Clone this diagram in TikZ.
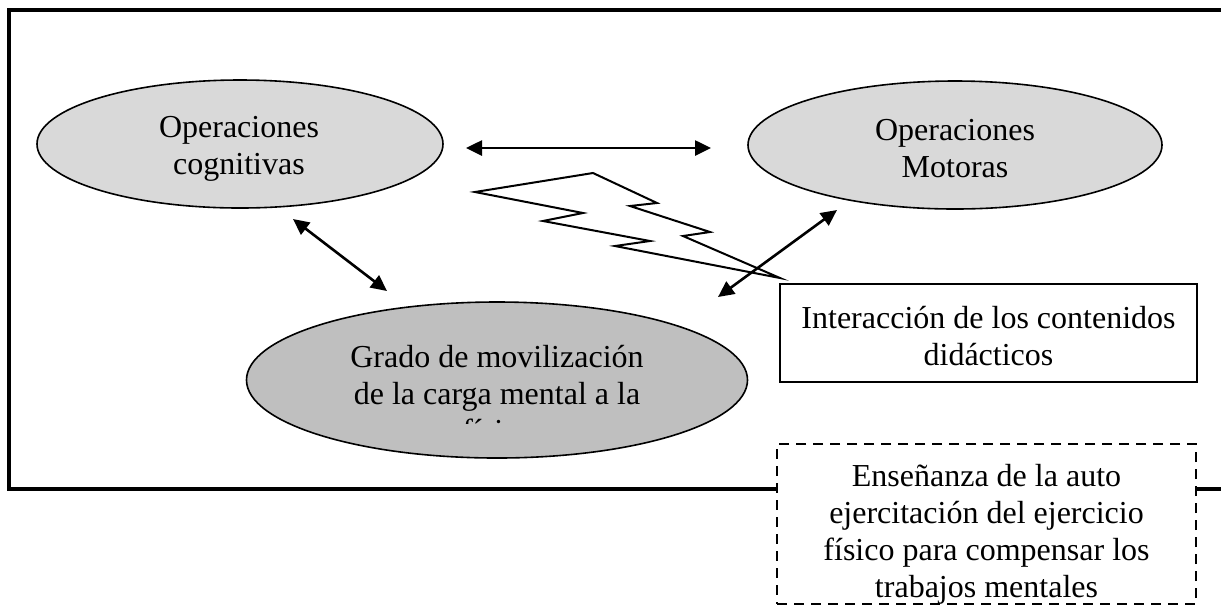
\documentclass[tikz,border=0pt]{standalone}
\usepackage{fontspec}
\setmainfont{Liberation Serif}
\usetikzlibrary{shapes.geometric,arrows.meta}
\begin{document}
\begin{tikzpicture}[x=0.5pt,y=-0.5pt,
  txt/.style={font=\fontsize{16}{18.5}\selectfont, align=center},
  oval/.style={ellipse, draw, line width=0.8pt, inner sep=0pt},
  dbl/.style={line width=1.3pt, {Triangle[length=8pt,width=7.5pt]}-{Triangle[length=8pt,width=7.5pt]}},
  framebox/.style={draw, line width=0.8pt, fill=white, inner sep=0pt}
]
\useasboundingbox (0,0) rectangle (1221,607);
% outer frame (open on the right)
\draw[line width=2pt] (1221,9.5) -- (9,9.5) -- (9,488.5) -- (1221,488.5);
% ellipses
\node[oval, fill=black!15, minimum width=203pt, minimum height=64pt] (cog) at (240,144) {};
\node[txt] (cogt) at (239,149) {Operaciones\\cognitivas};
\node[oval, fill=black!15, minimum width=207pt, minimum height=64pt] (mot) at (955,145) {};
\node[txt] (mott) at (955,149) {Operaciones\\Motoras};
\node[oval, fill=black!25, minimum width=250.5pt, minimum height=78pt] (grado) at (497,380) {};
\begin{scope}
\clip (240,300) rectangle (760,423);
\node[txt] (gradotxt) at (497,394) {Grado de movilización\\de la carga mental a la\\física};
\end{scope}
% lightning
\draw[line width=1pt, line join=miter] (475,192) -- (593,173) -- (657,203) -- (630,206) -- (710,232) -- (683,236) -- (780,278) -- (615,246) -- (650,241) -- (543,221) -- (583,213) -- cycle;
% arrows
\coordinate (a1) at (466,148);
\coordinate (a2) at (711,148);
\coordinate (b1) at (293,219);
\coordinate (b2) at (387,291);
\coordinate (c1) at (718,297);
\coordinate (c2) at (837,210);
\draw[dbl] (a1) -- (a2);
\draw[dbl] (b1) -- (b2);
\draw[dbl] (c1) -- (c2);
% boxes
\node[framebox, minimum width=208.5pt, minimum height=49pt] (inter) at (988.5,333) {};
\node[txt] (intert) at (988.5,336) {Interacción de los contenidos\\didácticos};
\node[framebox, line width=1.3pt, dash pattern=on 5pt off 3.5pt, minimum width=209.5pt, minimum height=80pt] (ens) at (986.5,524) {};
\node[txt] (enst) at (986.5,534) {Enseñanza de la auto\\ejercitación del ejercicio\\físico para compensar los\\trabajos mentales};
\end{tikzpicture}
\end{document}
